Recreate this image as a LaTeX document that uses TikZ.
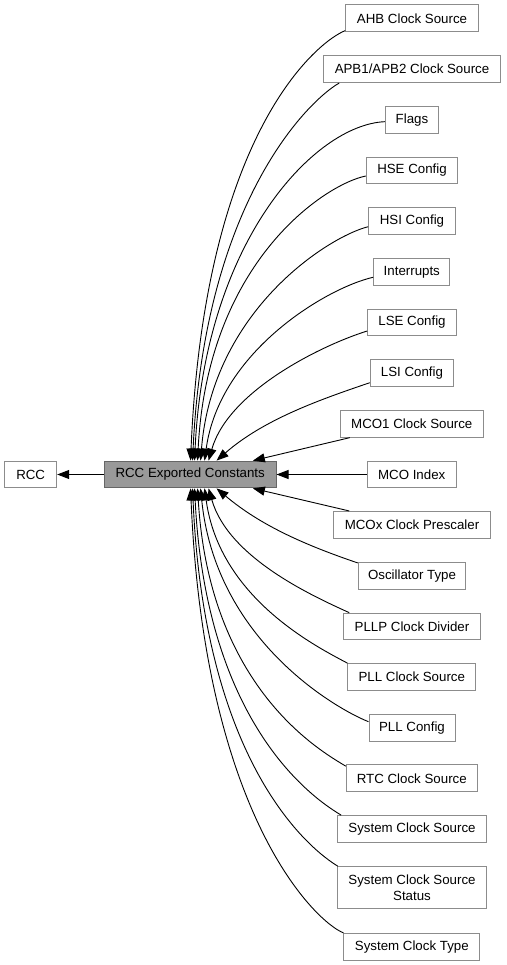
\documentclass[tikz,border=0pt]{standalone}
\usepackage{fontspec}
\setmainfont{Liberation Sans}
\usetikzlibrary{arrows.meta,calc}
\definecolor{boxgray}{HTML}{8C8C8C}
\definecolor{maingray}{HTML}{999999}
\definecolor{mainborder}{HTML}{666666}
\begin{document}
\begin{tikzpicture}[x=1pt,y=-1pt,
  box/.style={draw=boxgray, fill=white, line width=1pt, minimum height=26.7pt, inner sep=0pt,
    font=\fontsize{13.3}{15.7}\selectfont, align=center},
  mainbox/.style={box, fill=maingray, draw=mainborder},
  arr/.style={-{Triangle[length=12pt,width=9pt]}, line width=0.9pt, black}]
\useasboundingbox (0,0) rectangle (506,965);
% nodes
\node[box, minimum width=52pt] (rcc) at (30.7,474.5) {RCC};
\node[mainbox, minimum width=171.7pt] (main) at (190.2,474.5) {RCC Exported Constants};
\node[box, minimum width=132.6pt] (ahb) at (412,18.3) {AHB Clock Source};
\node[box, minimum width=176.6pt] (apb) at (412,69.2) {APB1/APB2 Clock Source};
\node[box, minimum width=53.4pt] (flags) at (412,120) {Flags};
\node[box, minimum width=91.4pt] (hse) at (412,170.5) {HSE Config};
\node[box, minimum width=86.6pt] (hsi) at (412,221.2) {HSI Config};
\node[box, minimum width=76.3pt] (intr) at (411.8,272) {Interrupts};
\node[box, minimum width=88.6pt] (lse) at (412,322.5) {LSE Config};
\node[box, minimum width=83.4pt] (lsi) at (412,373.2) {LSI Config};
\node[box, minimum width=143pt] (mcoone) at (411.8,423.8) {MCO1 Clock Source};
\node[box, minimum width=88.7pt] (mcoidx) at (411.7,474.5) {MCO Index};
\node[box, minimum width=156.6pt] (mcox) at (412,524.8) {MCOx Clock Prescaler};
\node[box, minimum width=107.4pt] (osc) at (412,575.8) {Oscillator Type};
\node[box, minimum width=136.6pt] (pllp) at (412,626.5) {PLLP Clock Divider};
\node[box, minimum width=127.7pt] (pllcs) at (411.8,677) {PLL Clock Source};
\node[box, minimum width=86pt] (pllcfg) at (412,727.7) {PLL Config};
\node[box, minimum width=131pt] (rtc) at (411.8,778.3) {RTC Clock Source};
\node[box, minimum width=149.4pt] (syscs) at (412,829) {System Clock Source};
\node[box, minimum width=149.4pt, minimum height=42.3pt] (status) at (412,887.8) {System Clock Source\\Status};
\node[box, minimum width=135.7pt] (systype) at (411.8,946.7) {System Clock Type};
% edges
\draw[arr] (main.west) -- (rcc.east);
\draw[arr] ($(ahb.south west)+(0,-1.5)$) .. controls +(-26,10) and +(14,-331) .. ($(main.north west)+(86.7,0)$);
\draw[arr] ($(apb.south west)+(16,0)$) .. controls +(-30,17) and +(12,-260) .. ($(main.north west)+(88.7,0)$);
\draw[arr] ($(flags.west)+(0,1.7)$) .. controls +(-70,3) and +(10,-220) .. ($(main.north west)+(90.7,0)$);
\draw[arr] ($(hse.west)+(0,5.5)$) .. controls +(-40,8) and +(10,-200) .. ($(main.north west)+(93.7,0)$);
\draw[arr] ($(hsi.west)+(0,5.5)$) .. controls +(-40,10) and +(12,-150) .. ($(main.north west)+(96.7,0)$);
\draw[arr] ($(intr.west)+(0,5.3)$) .. controls +(-45,10) and +(15,-110) .. ($(main.north west)+(100.7,0)$);
\draw[arr] ($(lse.west)+(0,8.5)$) .. controls +(-45,14) and +(20,-70) .. ($(main.north west)+(104.7,0)$);
\draw[arr] ($(lsi.west)+(0,9.5)$) .. controls +(-47,16) and +(48,-42) .. ($(main.north west)+(112.7,0)$);
\draw[arr] ($(mcoone.south west)+(10,0)$) -- ($(main.north west)+(149,0)$);
\draw[arr] (mcoidx.west) -- (main.east);
\draw[arr] ($(mcox.north west)+(16,0)$) -- ($(main.south west)+(149,0)$);
\draw[arr] ($(osc.north west)+(0,1)$) .. controls +(-50,-17) and +(45,38) .. ($(main.south west)+(112.7,0)$);
\draw[arr] ($(pllp.north west)+(6,0)$) .. controls +(-35,-16) and +(20,70) .. ($(main.south west)+(104.7,0)$);
\draw[arr] (pllcs.north west) .. controls +(-30,-16) and +(15,110) .. ($(main.south west)+(100.7,0)$);
\draw[arr] ($(pllcfg.west)+(0,-6)$) .. controls +(-35,-14) and +(15,150) .. ($(main.south west)+(96.7,0)$);
\draw[arr] ($(rtc.north west)+(0,1.7)$) .. controls +(-25,-15) and +(12,200) .. ($(main.south west)+(93.7,0)$);
\draw[arr] ($(syscs.north west)+(4.4,0)$) .. controls +(-25,-15) and +(12,240) .. ($(main.south west)+(90.7,0)$);
\draw[arr] ($(status.north west)+(1,0)$) .. controls +(-25,-15) and +(12,280) .. ($(main.south west)+(88.7,0)$);
\draw[arr] (systype.north west) .. controls +(-26,-10) and +(14,331) .. ($(main.south west)+(86.7,0)$);
\end{tikzpicture}
\end{document}
